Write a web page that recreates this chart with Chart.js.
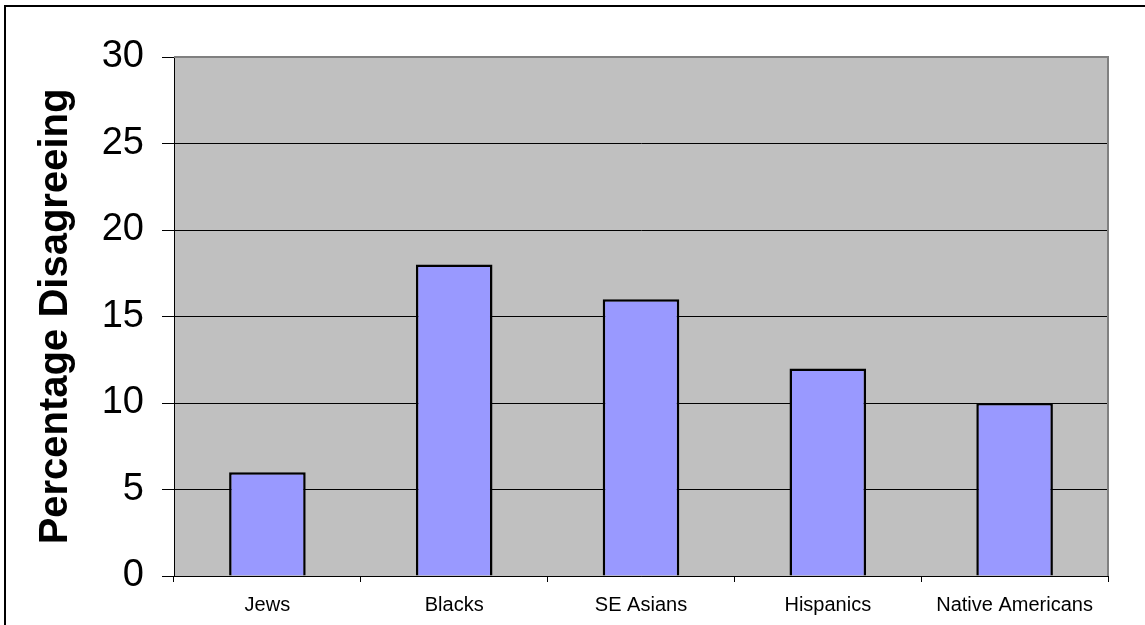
<!DOCTYPE html>
<html>
<head>
<meta charset="utf-8">
<script src="https://cdn.jsdelivr.net/npm/chart.js@4"></script>
<style>
  html, body { margin: 0; padding: 0; background: #fff; overflow: hidden; }
  #wrap { position: relative; width: 1145px; height: 625px; }
  #frame { position: absolute; left: 4px; top: 5px; width: 1150px; height: 630px; border: 2px solid #000; box-sizing: border-box; }
  canvas { position: absolute; left: 0; top: 0; }
</style>
</head>
<body>
<div id="wrap">
  <div id="frame"></div>
  <canvas id="chart" width="1145" height="625"></canvas>
</div>
<script>
// data
const categories = ['Jews', 'Blacks', 'SE Asians', 'Hispanics', 'Native Americans'];
const percentDisagreeing = [6, 18, 16, 12, 10];
const yTicks = [0, 5, 10, 15, 20, 25, 30];

const FONT = "'Liberation Sans', Arial, sans-serif";

// grey plot background plus grey top/right border
const plotFrame = {
  id: 'plotFrame',
  beforeDraw(chart) {
    const a = chart.chartArea, c = chart.ctx;
    c.save();
    c.fillStyle = '#c0c0c0';
    c.fillRect(a.left, a.top, a.right - a.left, a.bottom - a.top);
    c.restore();
  },
  afterDraw(chart) {
    const a = chart.chartArea, c = chart.ctx;
    c.save();
    c.strokeStyle = '#808080';
    c.lineWidth = 2;
    c.beginPath();
    c.moveTo(a.left, a.top);
    c.lineTo(a.right, a.top);
    c.lineTo(a.right, a.bottom);
    c.stroke();
    c.restore();
  }
};

const ctx = document.getElementById('chart').getContext('2d');
new Chart(ctx, {
  type: 'bar',
  data: {
    labels: categories,
    datasets: [{
      data: percentDisagreeing,
      backgroundColor: '#9999ff',
      borderColor: '#000',
      borderWidth: 2.5,
      categoryPercentage: 1,
      barPercentage: 0.41
    }]
  },
  options: {
    responsive: false,
    animation: false,
    layout: { padding: { top: 57, right: 37, left: 0, bottom: 0 } },
    plugins: { legend: { display: false }, tooltip: { enabled: false } },
    scales: {
      x: {
        grid: { offset: true, drawOnChartArea: false, color: '#000', tickLength: 6 },
        border: { color: '#000', width: 1 },
        ticks: { color: '#000', font: { family: FONT, size: 20 }, padding: 11, maxRotation: 0 },
        afterFit(scale) { scale.height = 49; }
      },
      y: {
        min: 0,
        max: 30,
        afterBuildTicks(scale) { scale.ticks = yTicks.map(v => ({ value: v })); },
        grid: { color: '#000', tickLength: 12 },
        border: { color: '#000', width: 1 },
        ticks: { color: '#000', font: { family: FONT, size: 38 }, padding: 18 },
        title: {
          display: true,
          text: 'Percentage Disagreeing',
          color: '#000',
          font: { family: FONT, size: 40, weight: 'bold' },
          padding: { top: 32, bottom: 0 }
        },
        afterFit(scale) { scale.width = 174; }
      }
    }
  },
  plugins: [plotFrame]
});
</script>
</body>
</html>
